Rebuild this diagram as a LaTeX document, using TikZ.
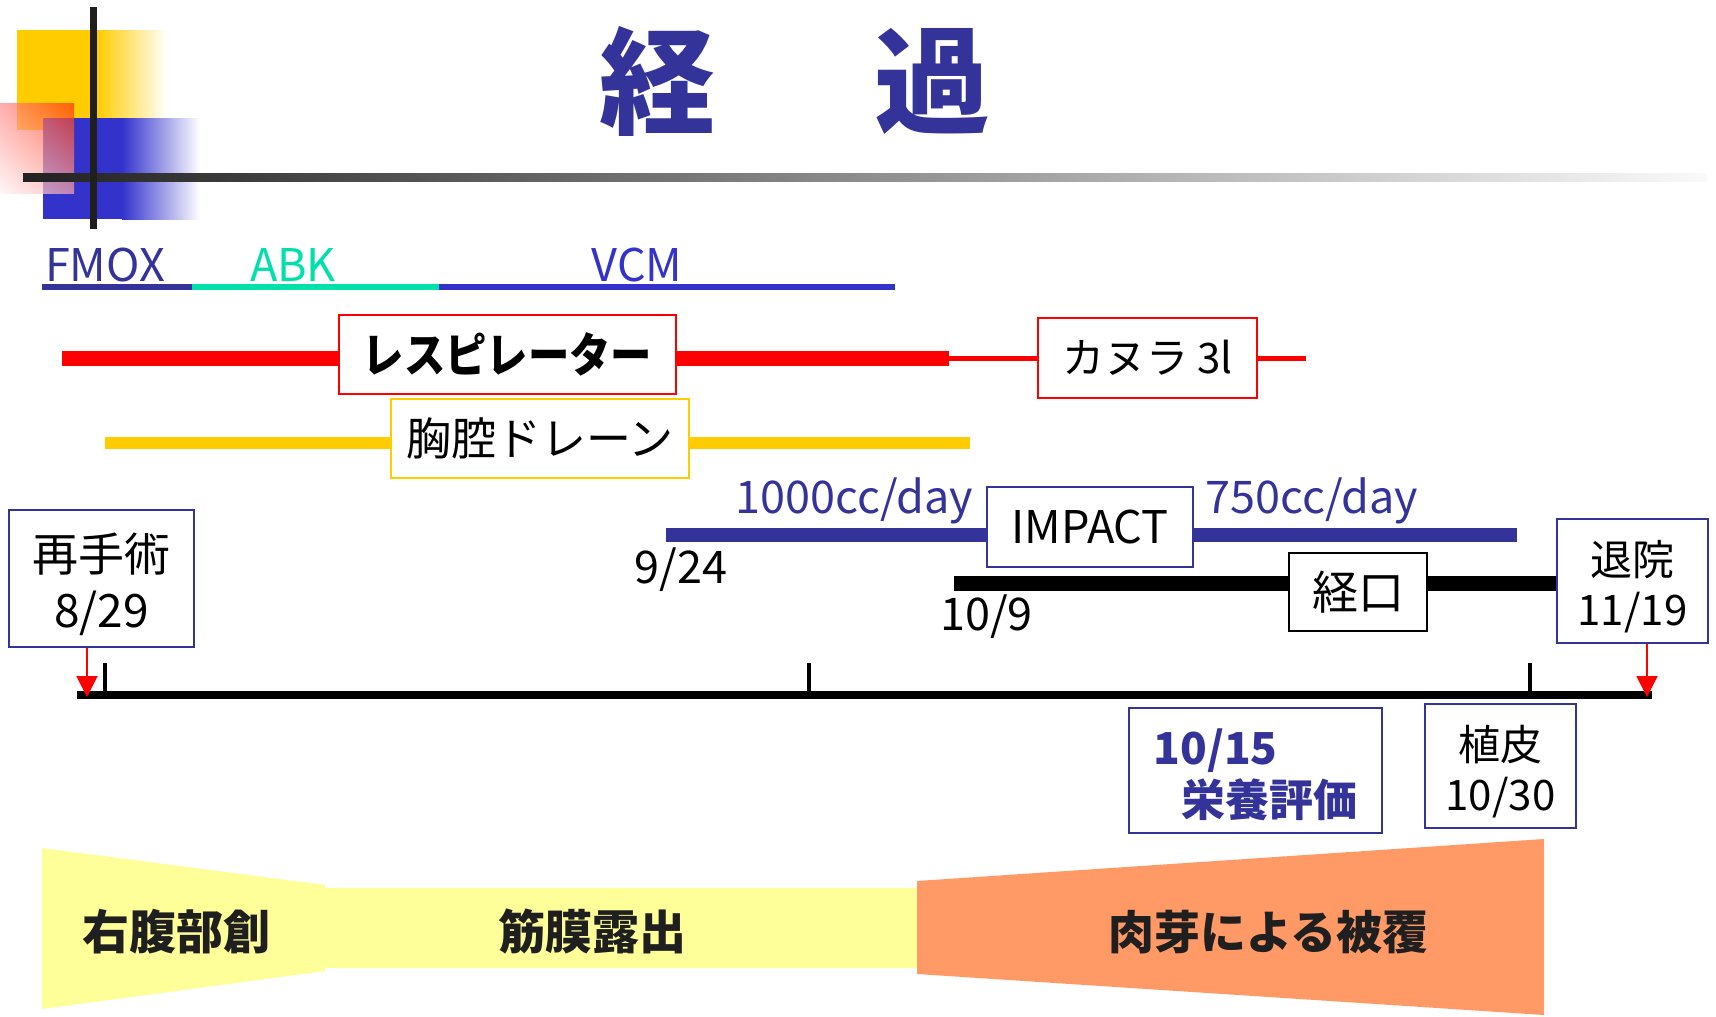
\documentclass[tikz,border=0pt]{standalone}
\usepackage{fontspec}
\setmainfont{Noto Sans CJK JP}
\usetikzlibrary{arrows.meta,shadings}
\definecolor{navy}{HTML}{333399}
\definecolor{vblue}{HTML}{3333CC}
\definecolor{teal}{HTML}{00E0AA}
\definecolor{dyellow}{HTML}{FFCC00}
\definecolor{lyellow}{HTML}{FFFF99}
\definecolor{orng}{HTML}{FF9966}
\definecolor{lred}{HTML}{FF3300}
\newcommand\setfs[2]{\fontsize{#1}{#2}\selectfont}
\newcommand\topstrut[1]{\rule{0pt}{#1}}
\tikzset{
  lbl/.style={inner sep=0pt},
  box/.style={draw, line width=2pt, fill=white, inner sep=0pt, align=center},
  redarrow/.style={draw=red, line width=2pt, -{Triangle[width=21pt,length=21pt]}, red},
}
\begin{document}
\begin{tikzpicture}[x=1pt,y=-1pt]
\useasboundingbox (0,0) rectangle (1716,1017);
% logo
\fill[dyellow] (17,30) rectangle (97,130);
\shade[left color=dyellow, right color=white] (97,30) rectangle (167,130);
\fill[vblue] (43,118) rectangle (122,219);
\shade[left color=vblue, right color=white] (122,118) rectangle (200,219);
\shade[upper right=lred, upper left=red!45, lower right=red!35, lower left=red!5, fill opacity=0.7, opacity=0.7] (0,103) rectangle (74,193);
\shade[left color=black!87, right color=black!2] (23,173) rectangle (1707,181);
\fill[black!88] (90,7) rectangle (97,229);
% title
\node[lbl, text=navy, font=\bfseries\setfs{116}{130}] (t1) at (657.5,81) {経};
\node[lbl, text=navy, font=\bfseries\setfs{116}{130}] (t2) at (932,81) {過};
% antibiotics
\coordinate (d0) at (42,287);
\coordinate (d1) at (192,287);
\coordinate (d2) at (439,287);
\coordinate (d3) at (895,287);
\draw[navy, line width=6pt] (d0) -- (d1);
\draw[teal, line width=6pt] (d1) -- (d2);
\draw[vblue, line width=6pt] (d2) -- (d3);
\node[lbl, anchor=base, text=navy, font=\setfs{45}{50}] (fmox) at (105,281) {FMOX};
\node[lbl, anchor=base, text=teal, font=\setfs{45}{50}] (abk) at (293,281) {ABK};
\node[lbl, anchor=base, text=vblue, font=\setfs{45}{50}] (vcm) at (637,281) {VCM};
% respirator
\node[box, draw=red, minimum width=337pt, minimum height=79pt, font=\bfseries\setfs{47}{50}] (resp) at (507.5,354.5) {\scalebox{0.88}[1]{レスピレーター}};
\node[box, draw=red, minimum width=219pt, minimum height=80pt, font=\setfs{42}{50}] (cann) at (1147.5,358) {カヌラ 3l};
\coordinate (r0) at (62,358);
\coordinate (r1) at (949,358);
\coordinate (r2) at (1306,358);
\draw[red, line width=15pt] (r0) -- (r0 -| resp.west);
\draw[red, line width=15pt] (r0 -| resp.east) -- (r1);
\draw[red, line width=5pt] (r1) -- (r1 -| cann.west);
\draw[red, line width=5pt] (r1 -| cann.east) -- (r2);
% chest drain
\node[box, draw=dyellow, minimum width=298pt, minimum height=79pt, font=\setfs{45}{50}] (drain) at (540,438.5) {胸腔ドレーン};
\coordinate (c0) at (105,443);
\coordinate (c1) at (970,443);
\draw[dyellow, line width=12pt] (c0) -- (c0 -| drain.west);
\draw[dyellow, line width=12pt] (c0 -| drain.east) -- (c1);
% nutrition
\node[box, draw=navy, minimum width=206pt, minimum height=80pt, font=\setfs{45}{50}] (impact) at (1090,527) {IMPACT};
\coordinate (n0) at (666,535);
\coordinate (n1) at (1517,535);
\draw[navy, line width=14pt] (n0) -- (n0 -| impact.west);
\draw[navy, line width=14pt] (n0 -| impact.east) -- (n1);
\node[lbl, anchor=base, text=navy, font=\setfs{45}{50}] (k1000) at (854.5,513) {1000cc/day};
\node[lbl, anchor=base, text=navy, font=\setfs{45}{50}] (k750) at (1311.5,513) {750cc/day};
\node[lbl, anchor=base, font=\setfs{45}{50}] (d924) at (681,583) {9/24};
% oral
\node[box, draw=navy, minimum width=151pt, minimum height=124pt, font=\setfs{42}{50}] (disch) at (1632.5,581) {\topstrut{47pt}退院\\11/19};
\node[box, draw=black, minimum width=138pt, minimum height=78pt, font=\setfs{46}{50}] (oral) at (1358,592) {経口};
\coordinate (o0) at (954,583);
\draw[black, line width=15pt] (o0) -- (o0 -| oral.west);
\draw[black, line width=15pt] (o0 -| oral.east) -- (o0 -| disch.west);
\node[lbl, anchor=base, font=\setfs{45}{50}] (d109) at (986.5,630) {10/9};
% surgery
\node[box, draw=navy, minimum width=185pt, minimum height=137pt, font=\setfs{46}{56}] (surg) at (101.5,578.5) {\topstrut{50pt}再手術\\8/29};
% timeline
\coordinate (L0) at (77,695);
\coordinate (L1) at (1652,695);
\draw[black, line width=7.5pt] (L0) -- (L1);
\coordinate (k1) at (105,663);
\coordinate (k2) at (809,663);
\coordinate (k3) at (1530,663);
\draw[black, line width=4pt] (k1) -- (k1 |- L0);
\draw[black, line width=4pt] (k2) -- (k2 |- L0);
\draw[black, line width=4pt] (k3) -- (k3 |- L0);
\coordinate (a1) at (87,697);
\coordinate (a2) at (1647,697);
\draw[redarrow] (surg.south -| a1) -- (a1);
\draw[redarrow] (disch.south -| a2) -- (a2);
% boxes below
\node[box, draw=navy, minimum width=253pt, minimum height=125pt, align=left, text=navy, font=\bfseries\setfs{44}{52}] (eval) at (1255.5,770.5) {\topstrut{44pt}10/15\\\hspace*{28pt}栄養評価};
\node[box, draw=navy, minimum width=151pt, minimum height=124pt, font=\setfs{42}{50}] (graft) at (1500.5,766) {\topstrut{46pt}植皮\\10/30};
% wound stages
\fill[lyellow] (42,848) -- (325,885) -- (325,971) -- (42,1009) -- cycle;
\fill[lyellow] (324,888) rectangle (918,968);
\fill[orng] (917,881) -- (1544,839) -- (1544,1015) -- (917,974) -- cycle;
\node[lbl, font=\bfseries\setfs{47}{50}, text=black!88] (w1) at (176.5,932) {右腹部創};
\node[lbl, font=\bfseries\setfs{47}{50}, text=black!88] (w2) at (592.5,932) {筋膜露出};
\node[lbl, font=\bfseries\setfs{46}{50}, text=black!88] (w3) at (1268.5,932) {肉芽による被覆};
\end{tikzpicture}
\end{document}
